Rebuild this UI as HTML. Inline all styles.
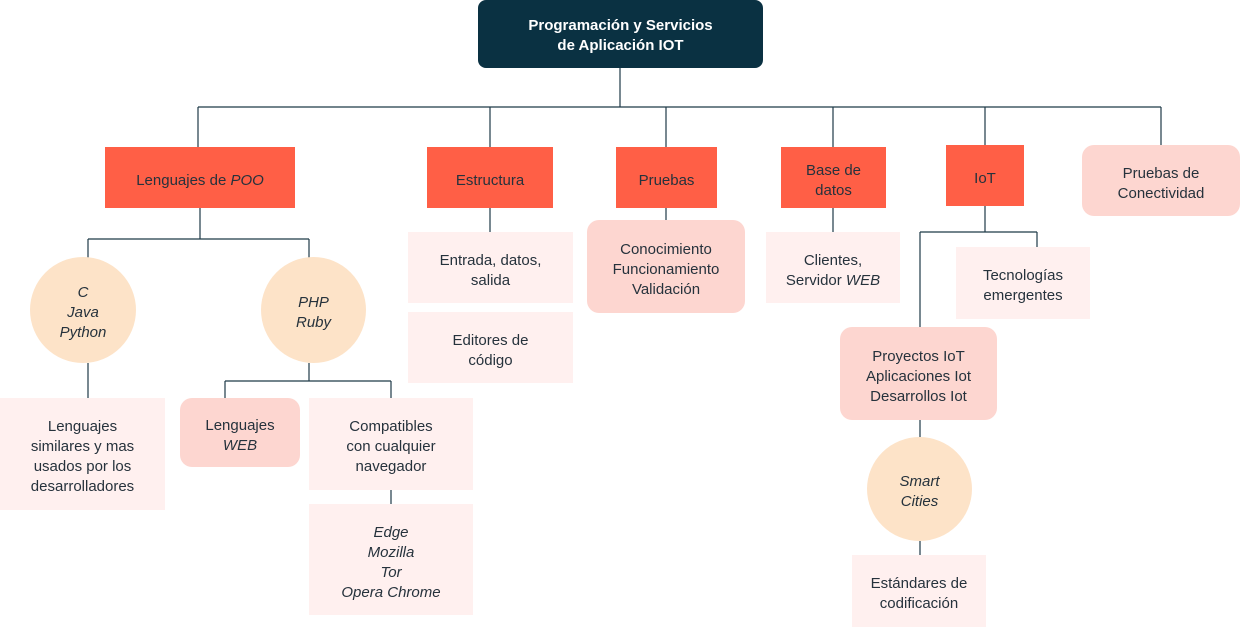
<!DOCTYPE html>
<html><head><meta charset="utf-8"><style>
body{margin:0;width:1240px;height:627px;background:#fff;position:relative;overflow:hidden;font-family:"Liberation Sans",sans-serif;}
.b{position:absolute;display:flex;align-items:center;justify-content:center;text-align:center;font-size:15px;line-height:20px;color:#26323c;box-sizing:border-box;padding-top:6px;}
.o{background:#ff5f46;}
.p{background:#fdd6d0;border-radius:12px;}
.l{background:#fff0ef;}
.c{background:#fde3c8;border-radius:50%;font-style:italic;}
svg{position:absolute;left:0;top:0;}
</style></head><body>
<svg width="1240" height="627"><g stroke="#1e3a48" stroke-width="1.2" fill="none">
<path d="M620 68V107M198 107H1161M198 107V147M490 107V147M666 107V147M833 107V147M985 107V145M1161 107V145"/>
<path d="M200 208V239M88 239H309M88 239V258M309 239V258"/>
<path d="M88 363V398M309 363V381M225 381H391M225 381V398M391 381V398M391 490V504"/>
<path d="M490 208V232M666 208V220M833 208V232"/>
<path d="M985 206V232M920 232H1037M1037 232V247M920 232V327M920 420V437M920 541V555"/>
</g></svg>
<div class="b" style="left:478px;top:0;width:285px;height:68px;background:#0a3142;border-radius:8px;color:#fff;font-weight:bold;padding-top:4px;">Programación y Servicios<br>de Aplicación IOT</div>
<div class="b o" style="left:105px;top:147px;width:190px;height:61px;">Lenguajes de&nbsp;<i>POO</i></div>
<div class="b o" style="left:427px;top:147px;width:126px;height:61px;">Estructura</div>
<div class="b o" style="left:616px;top:147px;width:101px;height:61px;">Pruebas</div>
<div class="b o" style="left:781px;top:147px;width:105px;height:61px;">Base de<br>datos</div>
<div class="b o" style="left:946px;top:145px;width:78px;height:61px;">IoT</div>
<div class="b p" style="left:1082px;top:145px;width:158px;height:71px;">Pruebas de<br>Conectividad</div>
<div class="b c" style="left:30px;top:257px;width:106px;height:106px;">C<br>Java<br>Python</div>
<div class="b c" style="left:261px;top:257px;width:105px;height:106px;">PHP<br>Ruby</div>
<div class="b l" style="left:0;top:398px;width:165px;height:112px;">Lenguajes<br>similares y mas<br>usados por los<br>desarrolladores</div>
<div class="b p" style="left:180px;top:398px;width:120px;height:69px;"><span>Lenguajes<br><i>WEB</i></span></div>
<div class="b l" style="left:309px;top:398px;width:164px;height:92px;">Compatibles<br>con cualquier<br>navegador</div>
<div class="b l" style="left:309px;top:504px;width:164px;height:111px;font-style:italic;">Edge<br>Mozilla<br>Tor<br>Opera Chrome</div>
<div class="b l" style="left:408px;top:232px;width:165px;height:71px;">Entrada, datos,<br>salida</div>
<div class="b l" style="left:408px;top:312px;width:165px;height:71px;">Editores de<br>código</div>
<div class="b p" style="left:587px;top:220px;width:158px;height:93px;">Conocimiento<br>Funcionamiento<br>Validación</div>
<div class="b l" style="left:766px;top:232px;width:134px;height:71px;"><span>Clientes,<br>Servidor <i>WEB</i></span></div>
<div class="b l" style="left:956px;top:247px;width:134px;height:72px;">Tecnologías<br>emergentes</div>
<div class="b p" style="left:840px;top:327px;width:157px;height:93px;">Proyectos IoT<br>Aplicaciones Iot<br>Desarrollos Iot</div>
<div class="b c" style="left:867px;top:437px;width:105px;height:104px;">Smart<br>Cities</div>
<div class="b l" style="left:852px;top:555px;width:134px;height:72px;">Estándares de<br>codificación</div>
</body></html>
